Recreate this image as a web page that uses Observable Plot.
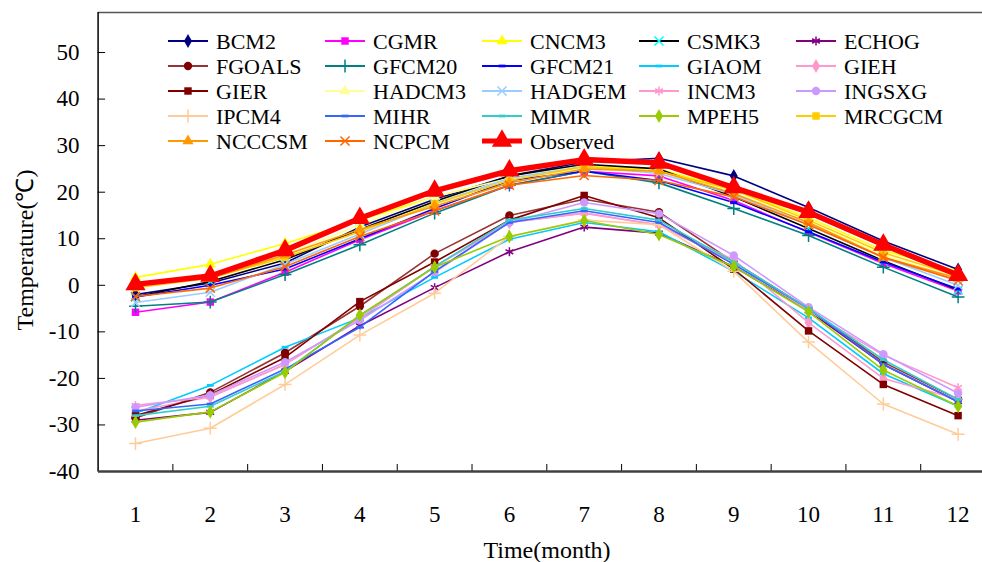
<!DOCTYPE html>
<html><head><meta charset="utf-8">
<script src="https://cdn.jsdelivr.net/npm/d3@7"></script>
<script src="https://cdn.jsdelivr.net/npm/@observablehq/plot@0.6"></script>
<style>
body{margin:0;background:#fff;}
#wrap{position:relative;width:982px;height:562px;overflow:hidden;}
#legend{position:absolute;left:0;top:0;}
</style></head><body><div id="wrap"></div>
<script>
const months = [1,2,3,4,5,6,7,8,9,10,11,12];
const yTicks = [-40,-30,-20,-10,0,10,20,30,40,50];

const BCM2   = [-2, 0.5, 4.8, 12.5, 18.5, 23.5, 26.5, 27.3, 23.5, 16.7, 9.5, 3.4];
const CGMR   = [-5.8, -3.6, 2.8, 9.8, 16, 21.5, 24.5, 23.5, 18.2, 11.4, 4.7, -1.2];
const CNCM3  = [1.7, 4.5, 9, 14, 19, 23, 25.5, 25, 20.5, 14.5, 7.5, 3];
const CSMK3  = [-2.5, 0.8, 5.5, 12, 18, 23.5, 26, 25, 19, 12.2, 5.3, -1];
const ECHOG  = [-29, -27.3, -18.5, -8.7, -0.5, 7.2, 12.5, 11.2, 4, -5.5, -17, -25];
const FGOALS = [-28.5, -23, -14.5, -4.5, 6.8, 15, 18.5, 15.7, 5, -5, -16.5, -24.5];
const GFCM20 = [-4.5, -3.6, 2.3, 8.7, 15.5, 21.5, 24.5, 22, 16.5, 10.7, 3.9, -2.5];
const GFCM21 = [-2.5, 0, 3.5, 10, 16.5, 22.5, 24.5, 22.5, 17.8, 11.5, 5, -0.8];
const GIAOM  = [-27.5, -21.5, -13.3, -7, 1.7, 9.9, 13.5, 11.5, 3, -7, -19, -26];
const GIEH   = [-27, -24, -17, -7, 4, 13.5, 15.5, 13, 5.5, -8, -20, -24.5];
const GIER   = [-28, -23.5, -15.5, -3.5, 5, 14, 19.3, 14.5, 3.5, -9.8, -21.3, -28];
const HADCM3 = [0, 1.5, 6.5, 13, 19, 23, 25, 24.5, 20, 13.5, 6.5, 1.5];
const HADGEM = [-3.7, -1.5, 4.5, 11, 17.5, 23, 25.5, 24, 19.5, 13, 6, 0];
const INCM3  = [-25.8, -24, -17, -7, 4, 13.5, 15.5, 12.9, 5, -5.5, -15, -22];
const INGSXG = [-26.2, -23.6, -16.5, -7.5, 2.8, 13.5, 17.8, 15.4, 6.4, -4.7, -14.8, -23.2];
const IPCM4  = [-34, -30.7, -21.3, -10.7, -1.7, 10.5, 14, 13, 3, -12.2, -25.5, -32];
const MIHR   = [-27, -25.5, -18, -9, 3, 13.5, 16, 13.5, 4.5, -5, -17, -25];
const MIMR   = [-28, -26, -18.5, -6.5, 4, 14, 16.5, 14, 5, -5, -16, -24.5];
const MPEH5  = [-29.4, -27.2, -18.7, -6.4, 3.9, 10.5, 13.9, 10.9, 4, -5.7, -18.2, -26];
const MRCGCM = [-0.5, 1.5, 6, 11.5, 17.5, 22.5, 25.5, 24.5, 20.5, 14, 7, 2];
const NCCCSM = [0, 1.5, 6.5, 12, 17, 22, 25, 24.5, 19.7, 13.5, 6, 1.5];
const NCPCM  = [-2.4, -0.6, 4, 10.5, 16, 21.5, 23.6, 22.5, 19, 13, 6, 1];
const Observed = [0.2, 2, 7.5, 14.4, 20.3, 24.6, 27, 26.3, 21, 15.7, 8.7, 2.2];

const seriesNames = ["BCM2","CGMR","CNCM3","CSMK3","ECHOG","FGOALS","GFCM20","GFCM21","GIAOM","GIEH",
  "GIER","HADCM3","HADGEM","INCM3","INGSXG","IPCM4","MIHR","MIMR","MPEH5","MRCGCM","NCCCSM","NCPCM","Observed"];
const seriesValues = [BCM2,CGMR,CNCM3,CSMK3,ECHOG,FGOALS,GFCM20,GFCM21,GIAOM,GIEH,
  GIER,HADCM3,HADGEM,INCM3,INGSXG,IPCM4,MIHR,MIMR,MPEH5,MRCGCM,NCCCSM,NCPCM,Observed];
const lineColors = ["#000080","#FF00FF","#FFFF00","#000000","#800080","#993333","#008080","#0000FF","#00CCFF","#FF99CC",
  "#800000","#FFFF99","#99CCFF","#FF99CC","#CC99FF","#FFCC99","#3366FF","#33CCCC","#99CC00","#FFCC00","#FF9900","#FF6600","#FF0000"];
const markerColors = ["#000080","#FF00FF","#FFFF00","#00FFFF","#800080","#800000","#008080","#0000FF","#00CCFF","#FF99CC",
  "#800000","#FFFF99","#99CCFF","#FF99CC","#CC99FF","#FFCC99","#3366FF","#33CCCC","#99CC00","#FFCC00","#FF9900","#FF6600","#FF0000"];
const markerShapes = ["diamond","square","triangle","times","asterisk","circle","plus","dash","dash","diamond",
  "square","triangle","times","asterisk","circle","plus","dash","dash","diamond","square","triangle","times","triangle"];

const dashSymbol = {draw(ctx, size){ const w = Math.sqrt(size)*1.1, h = w*0.4; ctx.moveTo(-w/2,-h/2); ctx.lineTo(w/2,-h/2); ctx.lineTo(w/2,h/2); ctx.lineTo(-w/2,h/2); ctx.closePath(); }};
const symbolFor = {diamond: d3.symbolDiamond, square: d3.symbolSquare, triangle: d3.symbolTriangle, times: d3.symbolTimes,
  asterisk: d3.symbolAsterisk, circle: d3.symbolCircle, plus: d3.symbolPlus, dash: dashSymbol};
const strokeShapes = new Set(["times","asterisk","plus"]);

const table = seriesNames.flatMap((s, i) => months.map((m, j) => ({series: s, month: m, value: seriesValues[i][j]})));

const yMax = 58.6;
const bounds = [1.5,2.5,3.5,4.5,5.5,6.5,7.5,8.5,9.5,10.5,11.5];
const font = "'Liberation Serif','Times New Roman',serif";

const marks = [
  Plot.ruleY([yMax], {stroke: "#555", strokeWidth: 1.5}),
  Plot.ruleX([0.5], {stroke: "#000", strokeWidth: 1.5}),
  Plot.ruleY(yTicks, {x1: 0.5, x2: 0.6, stroke: "#000", strokeWidth: 1}),
  Plot.ruleX(bounds, {y1: -40, y2: -38.5, stroke: "#000", strokeWidth: 1}),
  Plot.axisY({ticks: yTicks, tickSize: 0, tickPadding: 19, tickFormat: d => String(d), fontSize: 23, label: null}),
  Plot.axisX({ticks: months, tickSize: 0, tickPadding: 34, tickFormat: d => String(d), fontSize: 23, label: null})
];
seriesNames.forEach((s, i) => {
  const rows = table.filter(d => d.series === s);
  const isObs = s === "Observed";
  marks.push(Plot.line(rows, {x: "month", y: "value", stroke: lineColors[i], strokeWidth: isObs ? 5.5 : 1.6}));
  const shape = markerShapes[i];
  const sym = symbolFor[shape];
  const r = isObs ? 7.5 : (shape === "dash" ? 3.5 : 4.2);
  if (strokeShapes.has(shape)) {
    marks.push(Plot.dot(rows, {x: "month", y: "value", symbol: sym, r, stroke: markerColors[i], strokeWidth: 1.5, fill: "none"}));
  } else {
    marks.push(Plot.dot(rows, {x: "month", y: "value", symbol: sym, r, fill: markerColors[i], stroke: "none"}));
  }
});
marks.push(Plot.ruleY([-40], {stroke: "#404040", strokeWidth: 2.5}));

const chart = Plot.plot({
  width: 982, height: 562,
  marginLeft: 98, marginRight: 0, marginTop: 12, marginBottom: 91,
  style: {fontFamily: font, fontSize: "23px", color: "#000", background: "#fff"},
  x: {domain: [0.5, 12.5], range: [97.6, 995]},
  y: {domain: [-40, yMax]},
  marks
});
document.getElementById("wrap").appendChild(chart);

// Legend and axis titles overlay
const leg = d3.select("#wrap").append("svg").attr("id", "legend").attr("width", 982).attr("height", 562)
  .style("font-family", font).style("font-size", "22px").style("pointer-events", "none");
seriesNames.forEach((s, i) => {
  const col = i % 5, row = Math.floor(i / 5);
  const x0 = 168 + col * 157, yc = 41 + row * 25;
  const g = leg.append("g").attr("transform", `translate(${x0},${yc})`);
  const isObs = s === "Observed";
  g.append("line").attr("x1", 0).attr("x2", 40).attr("y1", 0).attr("y2", 0)
    .attr("stroke", lineColors[i]).attr("stroke-width", isObs ? 5 : 2);
  const shape = markerShapes[i];
  const r = isObs ? 7.5 : (shape === "dash" ? 3.5 : 4.2);
  const p = g.append("path").attr("transform", "translate(20,0)")
    .attr("d", d3.symbol(symbolFor[shape], Math.PI * r * r)());
  if (strokeShapes.has(shape)) p.attr("stroke", markerColors[i]).attr("stroke-width", 1.5).attr("fill", "none");
  else p.attr("fill", markerColors[i]);
  g.append("text").attr("x", 48).attr("y", 0).attr("dy", "0.35em").attr("fill", "#000").text(s);
});
leg.append("text").attr("transform", "translate(25,250) rotate(-90)").attr("text-anchor", "middle")
  .attr("dy", "0.35em").style("font-size", "24px").attr("fill", "#000").text("Temperature(℃)");
leg.append("text").attr("x", 547).attr("y", 550).attr("text-anchor", "middle")
  .attr("dy", "0.35em").style("font-size", "24px").attr("fill", "#000").text("Time(month)");
</script></body></html>
